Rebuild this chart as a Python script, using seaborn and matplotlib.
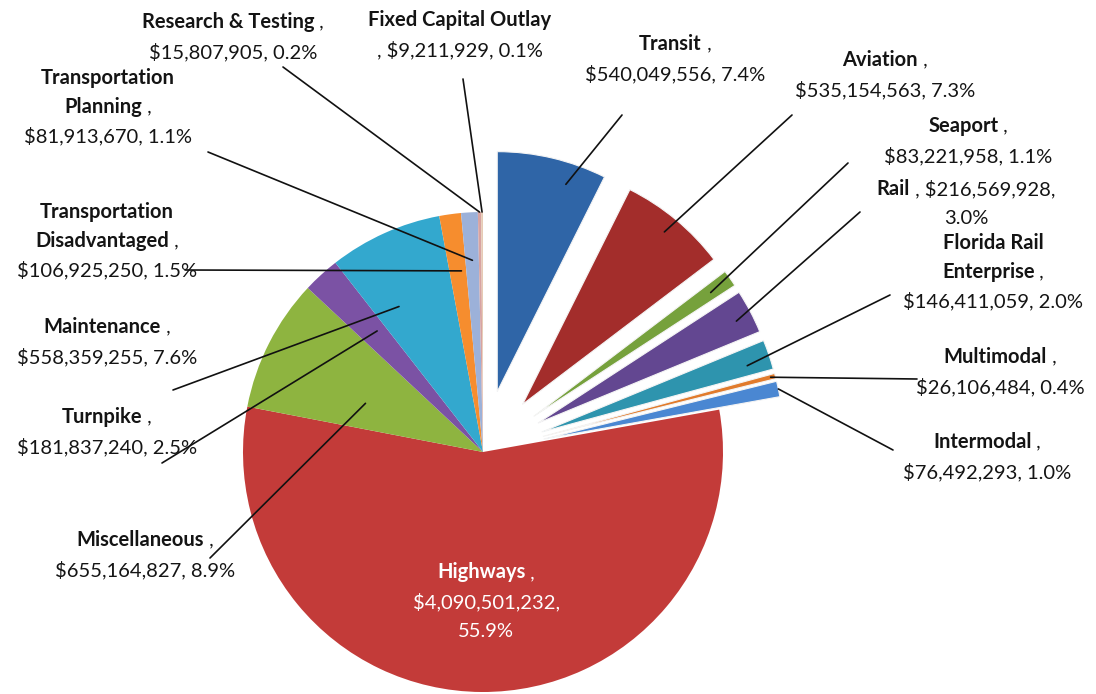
import matplotlib
matplotlib.use("Agg")
import matplotlib.pyplot as plt
import seaborn as sns
import numpy as np

# FDOT program budget by category, drawn clockwise from 12 o'clock
categories = ["Transit", "Aviation", "Seaport", "Rail", "Florida Rail Enterprise",
              "Multimodal", "Intermodal", "Highways", "Miscellaneous", "Turnpike",
              "Maintenance", "Transportation Disadvantaged", "Transportation Planning",
              "Research & Testing", "Fixed Capital Outlay"]
amounts = [540049556, 535154563, 83221958, 216569928, 146411059,
           26106484, 76492293, 4090501232, 655164827, 181837240,
           558359255, 106925250, 81913670, 15807905, 9211929]
pulled_out = [True] * 7 + [False] * 8

colors = ["#2F65A7", "#A32D2B", "#76A13C", "#634791", "#2E94AE",
          "#E17B2C", "#4A87D2", "#C33B39", "#8EB440", "#7B52A4",
          "#33A8CE", "#F68D2E", "#9CB1D9", "#D8A3A1", "#E6CBB5"]

# label text: '|' = new line, *...* = bold
label_fmt = ["*Transit* ,|{v}, {p}", "*Aviation* ,|{v}, {p}", "*Seaport* ,|{v}, {p}",
             "*Rail* , {v},|{p}", "*Florida Rail*|*Enterprise* ,|{v}, {p}",
             "*Multimodal* ,|{v}, {p}", "*Intermodal* ,|{v}, {p}",
             "*Highways* ,|{v},|{p}", "*Miscellaneous* ,|{v}, {p}", "*Turnpike* ,|{v}, {p}",
             "*Maintenance* ,|{v}, {p}", "*Transportation*|*Disadvantaged* ,|{v}, {p}",
             "*Transportation*|*Planning* ,|{v}, {p}", "*Research & Testing* ,|{v}, {p}",
             "*Fixed Capital Outlay*|, {v}, {p}"]

# layout (image pixel coords, y down)
W, H = 1096, 694
label_pos = [(675, 59), (885, 75), (968, 141), (966, 204), (993, 272),
             (1000, 372), (987, 457), (486, 602), (145, 555), (107, 432),
             (107, 342), (107, 241), (108, 107), (233, 37), (460, 35)]
leader_start = [(622, 115), (792, 115), (848, 163), (860, 212), (890, 295),
                (917, 379), (893, 450), None, (210, 558), (162, 463),
                (173, 390), (185, 270), (208, 152), (283, 67), (463, 79)]
# where the leader touches the wedge: (fraction along wedge clockwise, fraction of radius)
leader_end = [(0.69, 0.91), (0.49, 0.93), (0.53, 0.9), (0.55, 0.93), (0.63, 0.9),
              (0.5, 0.98), (0.5, 1.0), None, (0.36, 0.53), (0.64, 0.67),
              (0.29, 0.7), (0.71, 0.76), (0.52, 0.8), (0.5, 1.0), (0.5, 1.0)]

sns.set_theme(style="white")
plt.rcParams["font.family"] = ["Lato", "DejaVu Sans"]

fig = plt.figure(figsize=(W / 100, H / 100), dpi=100)
ax = fig.add_axes([0, 0, 1, 1])

R = 240
explode = [62 if p else 0 for p in pulled_out]
wedges, _ = ax.pie(amounts, colors=colors, startangle=90, counterclock=False,
                   explode=explode, radius=R, center=(483, H - 452),
                   wedgeprops=dict(linewidth=0))
for w, p in zip(wedges, pulled_out):
    if p:
        w.set_edgecolor("#f4f4f4")
        w.set_linewidth(0.8)

ax.set_xlim(0, W)
ax.set_ylim(0, H)
ax.set_aspect("equal")
ax.axis("off")

renderer = fig.canvas.get_renderer()
total = sum(amounts)
fs = 14.5
line_h = 29.5


def draw_label(fmt, cx, cy, color):
    lines = fmt.split("|")
    n = len(lines)
    for i, line in enumerate(lines):
        y = cy + (n - 1) / 2 * line_h - i * line_h
        parts = line.split("*")
        texts = []
        for j, seg in enumerate(parts):
            if seg == "":
                continue
            t = ax.text(0, y, seg, fontsize=fs, color=color, va="center", ha="left",
                        fontweight="bold" if j % 2 == 1 else "normal")
            texts.append(t)
        widths = [t.get_window_extent(renderer).width for t in texts]
        x = cx - sum(widths) / 2
        for t, wd in zip(texts, widths):
            t.set_x(x)
            x += wd


for i, cat in enumerate(categories):
    pct = amounts[i] / total * 100
    fmt = label_fmt[i].format(v=f"${amounts[i]:,}", p=f"{pct:.1f}%")
    lx, ly = label_pos[i]
    draw_label(fmt, lx, H - ly, "white" if cat == "Highways" else "#141414")

    if leader_start[i] is None:
        continue
    w = wedges[i]
    t, rf = leader_end[i]
    ang = np.deg2rad(w.theta2 - t * (w.theta2 - w.theta1))
    ex = w.center[0] + rf * w.r * np.cos(ang)
    ey = w.center[1] + rf * w.r * np.sin(ang)
    sx, sy = leader_start[i]
    ax.plot([sx, ex], [H - sy, ey], color="#111111", lw=1.2, zorder=5)

plt.savefig("out.png", dpi=100, facecolor="white")
